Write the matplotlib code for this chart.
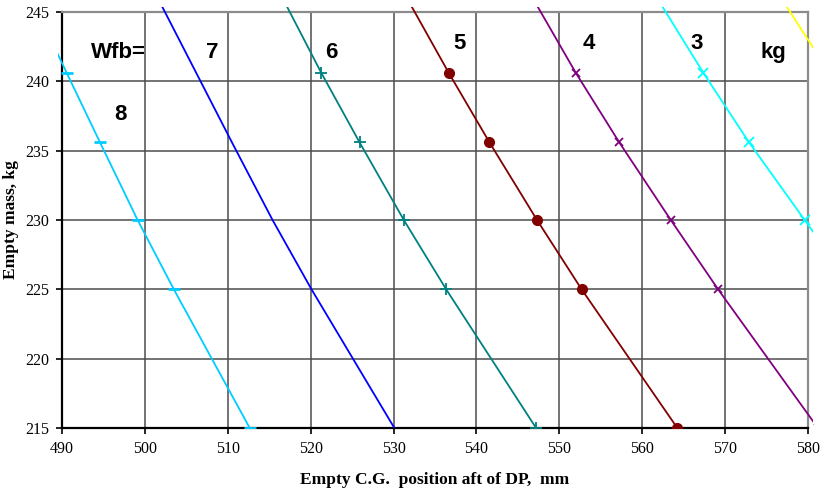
import matplotlib
matplotlib.use("Agg")
from matplotlib import pyplot as plt
from matplotlib.patches import Rectangle

# empty mass (kg) at which each Wfb line is given; first point lies above the plot
masses = [245.6, 240.6, 235.6, 230, 225, 215]

# empty C.G. position (mm) for each fuel mass Wfb (kg)
cg_wfb8 = [486.6, 490.57, 494.58, 499.12, 503.49, 512.65]
cg_wfb7 = [501.9, 506.2, 510.5, 515.4, 520.1, 530.1]
cg_wfb6 = [516.96, 521.29, 525.9, 531.24, 536.35, 547.2]
cg_wfb5 = [531.99, 536.67, 541.57, 547.31, 552.69, 564.24]
cg_wfb4 = [547.18, 552.0, 557.23, 563.45, 569.16, 581.2]
cg_wfb3 = [562.22, 567.39, 572.89, 579.6, 585.6, 597.6]
cg_wfb2 = [577.2, 582.6, 588.3, 595.0, 601.0, 614.0]

labels = ["Wfb=", "7", "6", "5", "4", "3", "kg", "8"]
label_x = [496.75, 508.1, 522.5, 537.95, 553.6, 566.6, 575.8, 497.0]
label_y = [242.1, 242.1, 242.1, 242.75, 242.75, 242.75, 242.1, 237.6]

fig = plt.figure(figsize=(8.28, 4.93), dpi=100)
ax = fig.add_axes([0.0749, 0.1318, 0.9009, 0.8439])

# lines in Excel run a little past the plot frame
clip = Rectangle((-0.006, 0.0), 1.013, 1.0127, transform=ax.transAxes)

series = [
    (cg_wfb8, '#00ccff', '_', 9, 2.0),
    (cg_wfb7, '#0000ff', None, 0, 0),
    (cg_wfb6, '#008080', '+', 8, 1.3),
    (cg_wfb5, '#800000', 'o', 7, 1.0),
    (cg_wfb4, '#800080', 'x', 6, 1.3),
    (cg_wfb3, '#00ffff', 'x', 7, 1.3),
    (cg_wfb2, '#ffff00', None, 0, 0),
]
for xs, col, mk, ms, mew in series:
    ln, = ax.plot(xs, masses, color=col, lw=1.3, marker=mk, ms=ms, mew=mew,
                  markevery=slice(1, None), zorder=3)
    ln.set_clip_path(clip)

for t, x, y in zip(labels, label_x, label_y):
    ax.text(x, y, t, ha='center', va='center', fontsize=16, fontweight='bold',
            family=['Liberation Sans', 'DejaVu Sans'])

ax.set_xlim(490, 580)
ax.set_ylim(215, 245)
ax.set_xticks(range(490, 581, 10))
ax.set_yticks(range(215, 246, 5))
ax.grid(True, color='#4d4d4d', lw=1.1)
ax.set_axisbelow(True)

for s in ['left', 'bottom']:
    ax.spines[s].set_color('black')
    ax.spines[s].set_linewidth(1.6)
for s in ['top', 'right']:
    ax.spines[s].set_color('#8c8c8c')
    ax.spines[s].set_linewidth(1.6)

ax.tick_params(direction='out', length=4, width=1.2, labelsize=11.5, pad=5)
for lab in ax.get_xticklabels() + ax.get_yticklabels():
    lab.set_family('Liberation Serif')

ax.set_xlabel('Empty C.G.  position aft of DP,  mm', family='Liberation Serif',
              fontweight='bold', fontsize=12.5)
ax.set_ylabel('Empty mass, kg', family='Liberation Serif', fontweight='bold',
              fontsize=12.5)
ax.xaxis.set_label_coords(0.5, -0.106)
ax.yaxis.set_label_coords(-0.057, 0.5)

fig.savefig('out.png', dpi=100)
